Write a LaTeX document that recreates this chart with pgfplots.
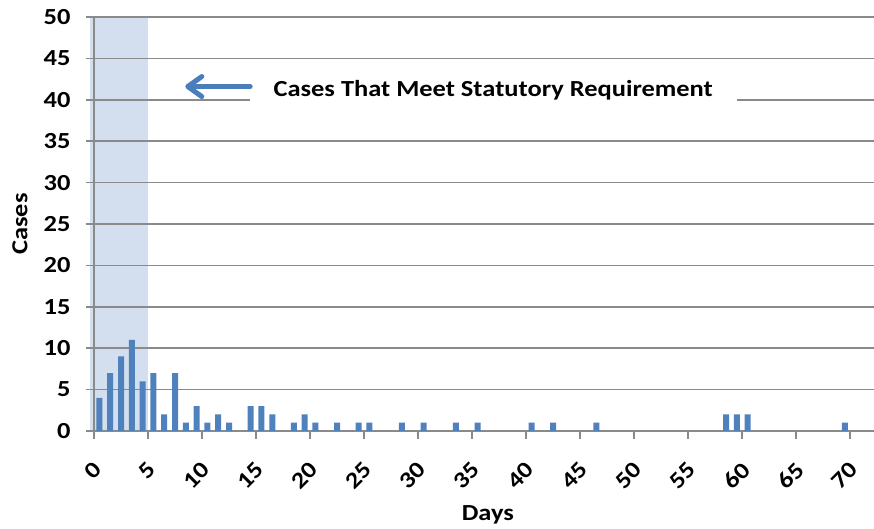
\documentclass[border=0pt]{standalone}
\usepackage{fontspec}
\setmainfont{Carlito}[FakeStretch=1.15]
\usepackage{pgfplots}
\usepackage{pgfplotstable}
\pgfplotsset{compat=1.18}
\usetikzlibrary{arrows.meta}

\definecolor{barblue}{RGB}{79,129,189}
\definecolor{arrowblue}{RGB}{74,126,187}
\definecolor{bandblue}{RGB}{211,222,238}
\definecolor{gridgray}{RGB}{138,138,138}

% days to decision (day) and number of cases
\pgfplotstableread{
day cases
0 4
1 7
2 9
3 11
4 6
5 7
6 2
7 7
8 1
9 3
10 1
11 2
12 1
14 3
15 3
16 2
18 1
19 2
20 1
22 1
24 1
25 1
28 1
30 1
33 1
35 1
40 1
42 1
46 1
58 2
59 2
60 2
69 1
}\casedata

\begin{document}
\begin{tikzpicture}
\begin{axis}[
  set layers,
  clip=false,
  scale only axis,
  width=780pt, height=414pt,
  xmin=0, xmax=72.2, ymin=0, ymax=50,
  axis x line*=bottom, axis y line*=left,
  ybar, bar width=6pt,
  xtick={0,5,...,70},
  ytick={0,5,...,50},
  ymajorgrids,
  grid style={gridgray, line width=1.6pt},
  axis line style={gridgray, line width=1.6pt},
  tick style={gridgray, line width=1.6pt},
  tick align=outside,
  major tick length=8pt,
  /pgf/number format/assume math mode=true,
  tick label style={font=\bfseries\fontsize{23}{23}\selectfont, black},
  yticklabel style={xshift=-12pt},
  xticklabel style={xshift=4pt, yshift=-27pt, rotate=45, anchor=east, inner sep=0pt},
  xlabel={Days},
  ylabel={Cases},
  every axis x label/.style={at={(axis description cs:0.505,0)}, anchor=center, yshift=-84pt, font=\bfseries\fontsize{23}{23}\selectfont},
  every axis y label/.style={at={(axis description cs:0,0.5)}, anchor=center, xshift=-74pt, rotate=90, font=\bfseries\fontsize{23}{23}\selectfont},
]
\begin{pgfonlayer}{axis background}
  \fill[bandblue] (axis cs:-0.35,0) rectangle (axis cs:5,50);
\end{pgfonlayer}
\addplot[fill=barblue, draw=none, bar shift=0pt]
  table[x expr=\thisrow{day}+0.5, y=cases] {\casedata};
\node[fill=white, inner sep=0pt, minimum width=487pt, minimum height=32pt,
      font=\bfseries\fontsize{23}{26}\selectfont]
  at (axis cs:36.95,41.2) {Cases That Meet Statutory Requirement};
\draw[arrowblue, line width=5pt, line cap=round,
      -{Straight Barb[length=14pt, width=20pt, round]}]
  (axis cs:14.45,41.6) -- (axis cs:8.45,41.6);
\coordinate (bl) at (rel axis cs:0,0);
\coordinate (tr) at (rel axis cs:1,1);
\end{axis}
\pgfresetboundingbox
\path[use as bounding box] ([xshift=-94pt,yshift=-98pt]bl) rectangle ([yshift=17pt]tr);
\end{tikzpicture}
\end{document}
